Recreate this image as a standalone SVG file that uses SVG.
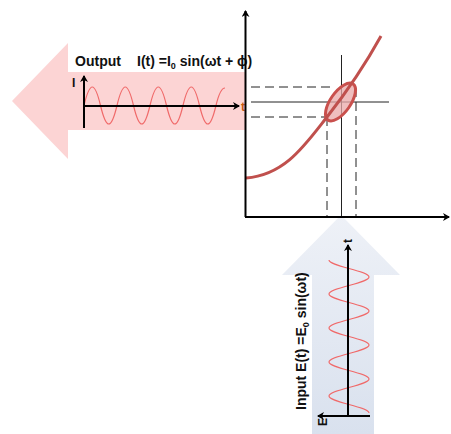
<svg xmlns="http://www.w3.org/2000/svg" width="451" height="434" viewBox="0 0 451 434">
<style>
.ax{stroke:#000;stroke-width:2;fill:none}
.thin{stroke:#222;stroke-width:1;fill:none}
.dash{stroke:#222;stroke-width:1;fill:none;stroke-dasharray:9 5}
.wave{stroke:#f06a6a;stroke-width:1.2;fill:none}
.lbl{font-family:"Liberation Sans",Arial,sans-serif;font-weight:bold;fill:#111}
</style>
<defs>
<marker id="ah" markerWidth="8" markerHeight="8" refX="6" refY="4" orient="auto" markerUnits="userSpaceOnUse">
<path d="M0,0 L7,4 L0,8 L2,4 Z" fill="#000"/>
</marker>
<linearGradient id="bg" x1="0" y1="0" x2="0" y2="1">
<stop offset="0" stop-color="#eef1f7"/>
<stop offset="1" stop-color="#d9e1ee"/>
</linearGradient>
</defs>
<g id="output-arrow">
<polygon points="12,101 68,43 68,72 245,72 245,130 68,130 68,159" fill="#fcd4d4"/>
<text class="lbl" x="75" y="66" font-size="14" textLength="46" lengthAdjust="spacingAndGlyphs">Output</text>
<text class="lbl" x="137" y="66" font-size="14">I(t) =I<tspan font-size="9" dy="3">0</tspan><tspan dy="-3"> sin(ωt + ϕ)</tspan></text>
<path class="wave" d="M84,105.5 C86.5,95 89,87 92.3,87 S98,95 100.5,105.5 S105.5,124 108.8,124 S114.5,116 117,105.5 S122,87 125.3,87 S131,95 133.5,105.5 S138.5,124 141.8,124 S147.5,116 150,105.5 S155,87 158.3,87 S164,95 166.5,105.5 S171.5,124 174.8,124 S180.5,116 183,105.5 S188,87 191.3,87 S197,95 199.5,105.5 S204.5,124 207.8,124 S213.5,116 216,105.5 S221,88 225,88"/>
<line class="ax" x1="84" y1="128" x2="84" y2="76" marker-end="url(#ah)"/>
<line class="ax" x1="84" y1="106" x2="239" y2="106" marker-end="url(#ah)"/>
<text class="lbl" x="72" y="87" font-size="12">I</text>
<text class="lbl" x="241" y="111" font-size="12" style="fill:#c55a11">t</text>
</g>
<g id="input-arrow">
<polygon points="341,215 400,275 374,275 374,434 312,434 312,275 282,275" fill="url(#bg)"/>
<text class="lbl" font-size="14" transform="translate(306,410) rotate(-90)">Input  E(t) =E<tspan font-size="9" dy="3">0</tspan><tspan dy="-3"> sin(ωt)</tspan></text>
<path class="wave" d="M329,260 C329,266.2 369,270.8 369,277 S329,287.8 329,294 S369,304.8 369,311 S329,321.8 329,328 S369,338.8 369,345 S329,355.8 329,362 S369,372.8 369,379 S329,389.8 329,396 S369,406.8 369,413"/>
<line class="ax" x1="348" y1="416" x2="348" y2="245" marker-end="url(#ah)"/>
<line class="ax" x1="370" y1="416" x2="318" y2="416" marker-end="url(#ah)"/>
<text class="lbl" font-size="12" transform="translate(352,243) rotate(-90)">t</text>
<text class="lbl" font-size="12" transform="translate(327,426) rotate(-90)">E</text>
</g>
<g id="graph">
<line class="dash" x1="251" y1="87" x2="332" y2="87"/>
<line class="dash" x1="251" y1="117" x2="327" y2="117"/>
<line class="thin" x1="251" y1="102" x2="389" y2="102"/>
<line class="thin" x1="341.5" y1="55" x2="341.5" y2="217"/>
<line class="dash" x1="327" y1="117" x2="327" y2="217"/>
<line class="dash" x1="356" y1="88" x2="356" y2="217"/>
<ellipse cx="340.5" cy="102" rx="22" ry="10" transform="rotate(-55 340.5 102)" fill="#e9a8a8" fill-opacity="0.75" stroke="#c9504d" stroke-width="3"/>
<path d="M246,178 C285,175 305,145 327,117 C345,94 365,65 381,36" fill="none" stroke="#c0504d" stroke-width="3"/>
</g>
<g id="connectors">
<line class="ax" x1="245.5" y1="217" x2="245.5" y2="11" marker-end="url(#ah)"/>
<line class="ax" x1="245" y1="217" x2="449" y2="217" marker-end="url(#ah)"/>
</g>
</svg>
